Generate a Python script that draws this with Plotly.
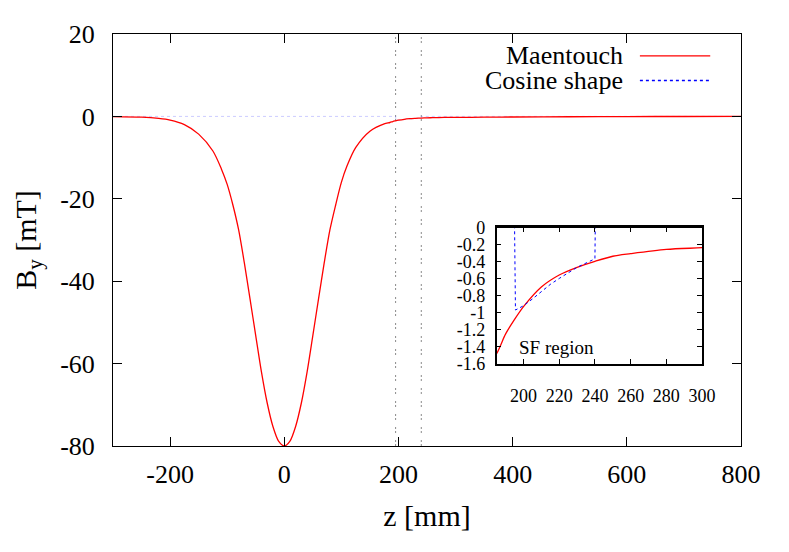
import plotly.graph_objects as go

# ---- data ----
z_maen = [-300, -250, -220, -200, -175, -150, -125, -110, -100, -90, -80, -70, -60, -50, -40,
          -30, -20, -10, 0, 10, 20, 30, 40, 50, 60, 70, 80, 90, 100, 110, 125, 150, 175,
          185, 190, 195, 200, 210, 220, 230, 240, 250, 260, 280, 300, 350, 400, 500, 600, 700, 800]
b_maen = [-0.05, -0.2, -0.5, -0.9, -2.0, -4.3, -8.4, -12.8, -16.5, -21.5, -27.5, -35.5, -44.3, -53.2, -62,
          -69.5, -75.2, -78.8, -80.0, -78.8, -75.2, -69.5, -62, -53.2, -44.3, -35.5, -27.5, -21.5, -16.0, -12.0, -7.6, -3.6, -1.8,
          -1.48, -1.25, -1.08, -0.93, -0.70, -0.56, -0.47, -0.40, -0.34, -0.31, -0.26, -0.24, -0.19, -0.14, -0.08, -0.04, -0.02, -0.01]

z_cos = [-300, 195, 195.5, 200, 205, 210, 215, 220, 225, 230, 235, 240, 240.2, 800]
b_cos = [0, 0, -0.97, -0.92, -0.84, -0.75, -0.67, -0.60, -0.53, -0.47, -0.42, -0.37, 0, 0]

sf_bounds = [195, 240]
series_names = ["Maentouch", "Cosine shape"]

main_xticks = [-200, 0, 200, 400, 600, 800]
main_yticks = [20, 0, -20, -40, -60, -80]
inset_xticks = [200, 220, 240, 260, 280, 300]
inset_yticks = [0, -0.2, -0.4, -0.6, -0.8, -1, -1.2, -1.4, -1.6]

FONT = "Liberation Serif"
RED = "#ff0000"
BLUE = "#0000ff"
GRAY = "#8a8a8a"
VDASH = "2px,2px,2px,7px"

def lab(v):
    return f"{v:g}"

fig = go.Figure()

# main traces
fig.add_trace(go.Scatter(x=z_cos, y=b_cos, mode="lines", line=dict(color="rgba(110,110,255,0.35)", width=1, dash="dot"),
                         xaxis="x", yaxis="y", showlegend=False, name=series_names[1]))
fig.add_trace(go.Scatter(x=z_maen, y=b_maen, mode="lines", line=dict(color=RED, width=1.3, shape="spline", smoothing=0.8),
                         xaxis="x", yaxis="y", showlegend=False, name=series_names[0]))
# inset traces
fig.add_trace(go.Scatter(x=z_maen, y=b_maen, mode="lines", line=dict(color=RED, width=1.3, shape="spline", smoothing=0.8),
                         xaxis="x2", yaxis="y2", showlegend=False, name=series_names[0]))
fig.add_trace(go.Scatter(x=z_cos, y=b_cos, mode="lines", line=dict(color=BLUE, width=1, dash="dot"),
                         xaxis="x2", yaxis="y2", showlegend=False, name=series_names[1]))

# SF region boundaries
for xb in sf_bounds:
    fig.add_shape(type="line", xref="x", yref="paper", x0=xb, x1=xb, y0=0, y1=1,
                  line=dict(color=GRAY, width=1, dash=VDASH), layer="below")
    fig.add_shape(type="line", xref="x2", yref="y2 domain", x0=xb, x1=xb, y0=0, y1=1,
                  line=dict(color=GRAY, width=1, dash=VDASH), layer="below")

# inset top frame edge drawn over the zero-level dotted line (as in the reference)
fig.add_shape(type="line", xref="x2 domain", yref="y2 domain", x0=0, x1=1, y0=1, y1=1,
              line=dict(color="black", width=1.5), layer="above")

fig.add_annotation(x=sf_bounds[0] + 1.2, y=-1.41, xref="x2", yref="y2", text="SF region",
                   showarrow=False, xanchor="left", yanchor="middle",
                   font=dict(family=FONT, size=19, color="black"))

# gnuplot-style legend (text right-aligned, sample on the right)
leg = [(0.947, RED, "solid"), (0.887, BLUE, "dot")]
for (yy, col, dash), name in zip(leg, series_names):
    fig.add_annotation(x=0.816, y=yy, xref="paper", yref="paper", text=name, showarrow=False,
                       xanchor="right", yanchor="middle", font=dict(family=FONT, size=26, color="black"))
    fig.add_shape(type="line", xref="paper", yref="paper", x0=0.839, x1=0.951, y0=yy, y1=yy,
                  line=dict(color=col, width=1.4, dash=dash))

axis_common = dict(showline=True, linecolor="black", mirror="ticks", ticks="inside",
                   showgrid=False, zeroline=False, tickcolor="black")

# page body has an 8px margin: plot area placed at screen x 113..741, y 30..446
fig.update_layout(
    width=789, height=552,
    margin=dict(l=105, r=56, t=22, b=114),
    paper_bgcolor="white", plot_bgcolor="white",
    font=dict(family=FONT, size=26, color="black"),
    xaxis=dict(range=[-300, 800], tickvals=main_xticks, ticktext=[lab(v) for v in main_xticks],
               ticklen=9, ticklabelstandoff=5, linewidth=1,
               title=dict(text="z [mm]", font=dict(size=30), standoff=16), **axis_common),
    yaxis=dict(range=[-80, 20], tickvals=main_yticks, ticktext=[lab(v) for v in main_yticks],
               ticklen=9, ticklabelstandoff=12, linewidth=1,
               title=dict(text="B<sub>y</sub> [mT]", font=dict(size=30), standoff=14), **axis_common),
    xaxis2=dict(domain=[0.611, 0.938], anchor="y2", range=[185, 300], tickvals=inset_xticks,
                ticktext=[lab(v) for v in inset_xticks], ticklen=5, ticklabelstandoff=15, linewidth=1.5,
                tickfont=dict(size=18), **axis_common),
    yaxis2=dict(domain=[0.1995, 0.531], anchor="x2", range=[-1.6, 0], tickvals=inset_yticks,
                ticktext=[lab(v) for v in inset_yticks], ticklen=5, ticklabelstandoff=6, linewidth=1.5,
                tickfont=dict(size=18), **axis_common),
)

fig.write_html("out.html")
